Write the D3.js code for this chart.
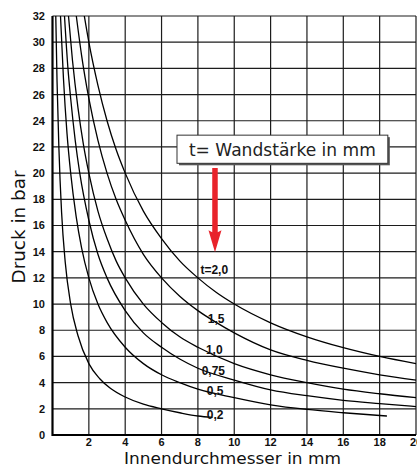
<!DOCTYPE html>
<html>
<head>
<meta charset="utf-8">
<script src="https://cdn.jsdelivr.net/npm/d3@7/dist/d3.min.js"></script>
<style>
  html, body { margin: 0; padding: 0; background: #fff; }
  svg { display: block; }
</style>
</head>
<body>
<div id="chart"></div>
<script>
// ---- data ----
const xTicks = [2, 4, 6, 8, 10, 12, 14, 16, 18, 20];
const yTicks = [0, 2, 4, 6, 8, 10, 12, 14, 16, 18, 20, 22, 24, 26, 28, 30, 32];
const seriesNames = ["0,2", "0,5", "0,75", "1,0", "1,5", "t=2,0"];

const d02 = [0.18, 0.25, 0.35, 0.5, 0.7, 1.0, 1.4, 2.0, 2.6, 3.2, 4.0, 5.0, 6.0, 7.0, 8.0, 8.8];
const p02 = [32, 27, 22, 17, 13.2, 10, 7.6, 5.45, 4.3, 3.55, 2.9, 2.35, 2.0, 1.7, 1.45, 1.35];

const d05 = [0.44, 0.6, 0.8, 1.0, 1.3, 1.6, 2.0, 2.5, 3.0, 4.0, 5.0, 6.0, 7.0, 8.0, 10, 12, 14, 16, 18.4];
const p05 = [32, 27.3, 23, 20, 16.7, 14.3, 12, 10, 8.6, 6.7, 5.45, 4.6, 4.0, 3.5, 2.85, 2.3, 1.95, 1.7, 1.45];

const d075 = [0.66, 0.85, 1.0, 1.25, 1.5, 2.0, 2.5, 3.0, 4.0, 5.0, 6.0, 7.0, 8.0, 10, 12, 14, 16, 18, 20];
const p075 = [32, 28, 25.7, 22.5, 20, 16.4, 13.8, 12, 9.5, 7.8, 6.7, 5.8, 5.1, 4.2, 3.45, 3.0, 2.65, 2.4, 2.17];

const d10 = [0.88, 1.1, 1.4, 1.7, 2.0, 2.5, 3.0, 3.5, 4.0, 5.0, 6.0, 7.0, 8.0, 10, 12, 14, 16, 18, 20];
const p10 = [32, 28.6, 25, 22.2, 20, 17.1, 15, 13.3, 12, 10, 8.6, 7.5, 6.7, 5.45, 4.6, 4.0, 3.5, 3.15, 2.86];

const d15 = [1.31, 1.6, 2.0, 2.5, 3.0, 3.5, 4.0, 5.0, 6.0, 7.0, 8.0, 9.0, 10, 12, 14, 16, 18, 20];
const p15 = [32, 29, 25.7, 22.5, 20, 18, 16.4, 13.8, 12, 10.6, 9.5, 8.6, 7.8, 6.5, 5.7, 5.1, 4.6, 4.19];

const d20 = [1.75, 2.0, 2.5, 3.0, 3.5, 4.0, 5.0, 6.0, 7.0, 8.0, 9.0, 10, 12, 14, 16, 18, 20];
const p20 = [32, 30, 26.7, 24, 21.8, 20, 17.1, 15, 13.3, 12, 10.9, 10, 8.57, 7.5, 6.67, 6.0, 5.45];

// ---- layout ----
const W = 417, H = 468;
const x = d3.scaleLinear().domain([0, 20]).range([52.5, 416]);
const y = d3.scaleLinear().domain([0, 32]).range([435, 16]);

const svg = d3.select("#chart").append("svg").attr("width", W).attr("height", H);
const ink = "#1c1c1c";

// grid
const g = svg.append("g");
g.selectAll("line.h").data(yTicks.filter(v => v > 0)).enter().append("line")
  .attr("x1", x(0)).attr("x2", x(20)).attr("y1", d => y(d)).attr("y2", d => y(d))
  .attr("stroke", ink).attr("stroke-width", 1.2);
g.selectAll("line.v").data(xTicks).enter().append("line")
  .attr("y1", y(0)).attr("y2", y(32)).attr("x1", d => x(d)).attr("x2", d => x(d))
  .attr("stroke", ink).attr("stroke-width", 1.2);

// axes lines (thicker)
svg.append("line").attr("x1", x(0)).attr("x2", x(0)).attr("y1", y(0) + 1).attr("y2", y(32))
  .attr("stroke", "#000").attr("stroke-width", 2.2);
svg.append("line").attr("x1", x(0)).attr("x2", x(20)).attr("y1", y(0)).attr("y2", y(0))
  .attr("stroke", "#000").attr("stroke-width", 2.2);

// tick labels
const tickFont = "'Liberation Sans', Arial, sans-serif";
svg.append("g").selectAll("text").data(yTicks).enter().append("text")
  .attr("x", 45).attr("y", d => y(d)).attr("dy", "0.36em")
  .attr("text-anchor", "end").attr("font-family", tickFont).attr("font-weight", "bold")
  .attr("font-size", 11).attr("fill", "#111").text(d => d);
svg.append("g").selectAll("text").data(xTicks).enter().append("text")
  .attr("x", d => x(d)).attr("y", 445.5)
  .attr("text-anchor", "middle").attr("font-family", tickFont).attr("font-weight", "bold")
  .attr("font-size", 11).attr("fill", "#111").text(d => d);

// curves
const series = [
  [d02, p02], [d05, p05], [d075, p075], [d10, p10], [d15, p15], [d20, p20]
].map(([ds, ps], i) => ({ name: seriesNames[i], pts: ds.map((d, j) => [d, ps[j]]) }));

const line = d3.line().x(d => x(d[0])).y(d => y(d[1])).curve(d3.curveMonotoneX);
svg.append("g").selectAll("path").data(series).enter().append("path")
  .attr("d", d => line(d.pts)).attr("fill", "none")
  .attr("stroke", "#000").attr("stroke-width", 1.3);

// curve labels (anchored in data space)
const labelPos = [[8.95, 1.55], [8.95, 3.4], [8.85, 4.95], [8.9, 6.55], [9.0, 8.85], [8.9, 12.6]];
svg.append("g").selectAll("text").data(series).enter().append("text")
  .attr("x", (d, i) => x(labelPos[i][0])).attr("y", (d, i) => y(labelPos[i][1]))
  .attr("dy", "0.36em").attr("text-anchor", "middle")
  .attr("font-family", tickFont).attr("font-weight", "bold").attr("font-size", 12)
  .attr("fill", "#111").text(d => d.name);

// axis titles
const titleFont = "'DejaVu Sans', 'Noto Sans', sans-serif";
svg.append("text").attr("transform", "translate(25,227) rotate(-90)")
  .attr("text-anchor", "middle").attr("font-family", titleFont).attr("font-size", 17)
  .attr("textLength", 113).attr("lengthAdjust", "spacingAndGlyphs")
  .attr("fill", "#111").text("Druck in bar");
svg.append("text").attr("x", 232.5).attr("y", 464)
  .attr("text-anchor", "middle").attr("font-family", titleFont).attr("font-size", 16)
  .attr("textLength", 217).attr("lengthAdjust", "spacingAndGlyphs")
  .attr("fill", "#111").text("Innendurchmesser in mm");

// annotation box
const bx0 = x(6.85), bx1 = x(18.45), by0 = y(22.9), by1 = y(20.75);
svg.append("rect").attr("x", bx0 + 2).attr("y", by0 + 2).attr("width", bx1 - bx0).attr("height", by1 - by0)
  .attr("fill", "#555");
svg.append("rect").attr("x", bx0).attr("y", by0).attr("width", bx1 - bx0).attr("height", by1 - by0)
  .attr("fill", "#fff").attr("stroke", "#333").attr("stroke-width", 1);
svg.append("text").attr("x", (bx0 + bx1) / 2).attr("y", by1 - 7)
  .attr("text-anchor", "middle").attr("font-family", titleFont).attr("font-size", 17)
  .attr("textLength", 187).attr("lengthAdjust", "spacingAndGlyphs")
  .attr("fill", "#222").text("t= Wandstärke in mm");

// red arrow
const ax = x(8.94), aTop = y(20.4), aTip = y(13.95), headH = 22, shaftW = 5.5, headW = 13;
svg.append("path")
  .attr("d", `M${ax - shaftW / 2},${aTop} L${ax + shaftW / 2},${aTop} L${ax + shaftW / 2},${aTip - headH + 2}
     L${ax + headW / 2},${aTip - headH} L${ax},${aTip} L${ax - headW / 2},${aTip - headH}
     L${ax - shaftW / 2},${aTip - headH + 2} Z`)
  .attr("fill", "#e8232b");
</script>
</body>
</html>
